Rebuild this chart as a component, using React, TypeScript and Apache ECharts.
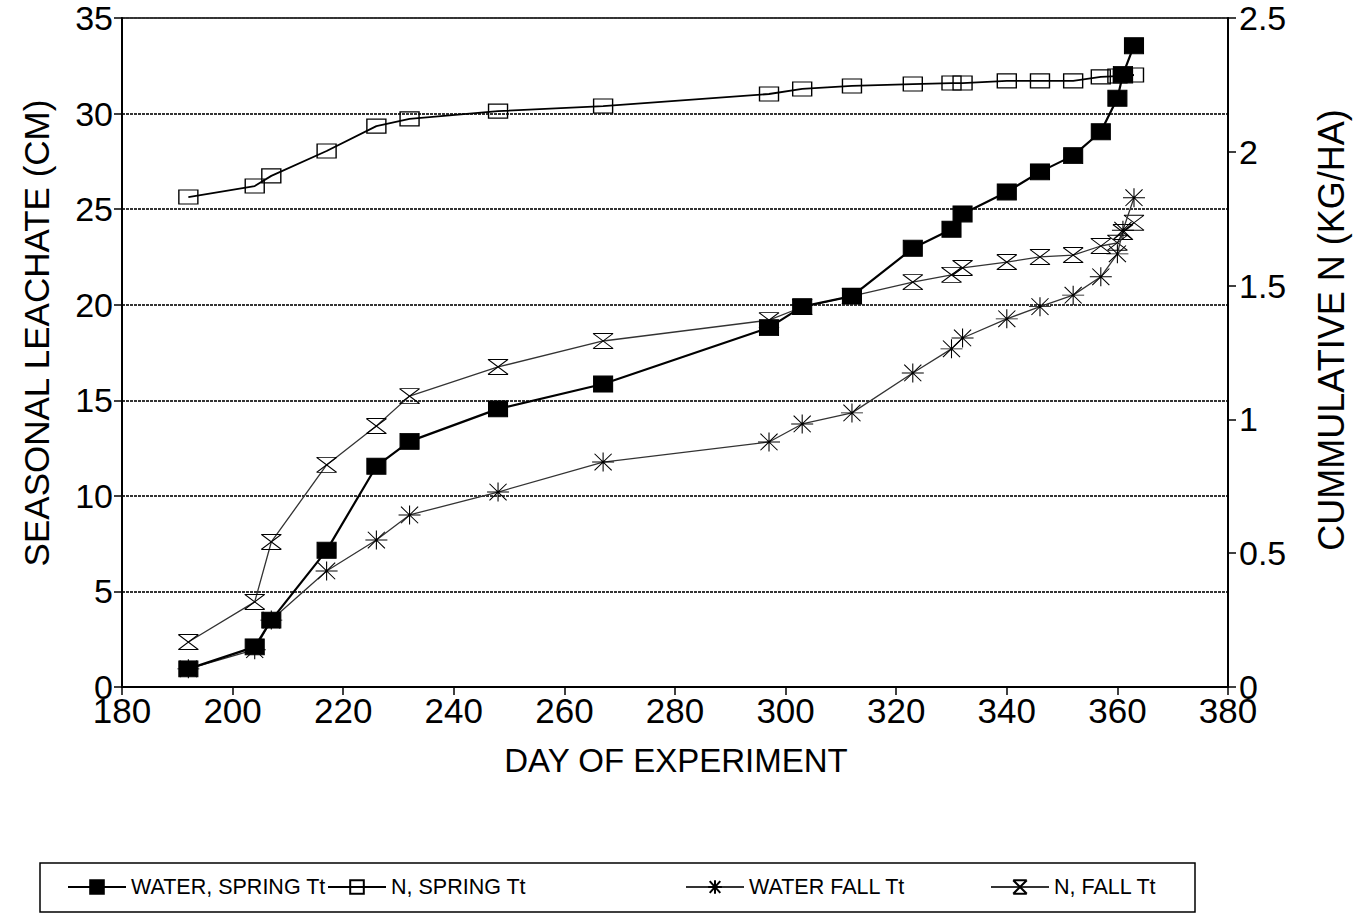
import React, { useEffect, useRef } from "react";
import * as echarts from "echarts";

const days = [192, 204, 207, 217, 226, 232, 248, 267, 297, 303, 312, 323, 330, 332, 340, 346, 352, 357, 360, 361, 363];
const waterSpring = [0.95, 2.1, 3.5, 7.15, 11.55, 12.85, 14.55, 15.85, 18.8, 19.9, 20.45, 22.95, 23.95, 24.75, 25.9, 26.95, 27.8, 29.05, 30.8, 32.05, 33.55];
const nSpring = [1.831, 1.872, 1.91, 2.003, 2.096, 2.123, 2.152, 2.171, 2.216, 2.235, 2.246, 2.253, 2.257, 2.257, 2.265, 2.265, 2.265, 2.28, 2.283, 2.283, 2.287];
const waterFall = [0.95, 1.95, 3.5, 6.07, 7.69, 9.0, 10.2, 11.77, 12.82, 13.76, 14.34, 16.43, 17.69, 18.26, 19.26, 19.9, 20.5, 21.46, 22.66, 23.9, 25.6];
const nFall = [0.168, 0.318, 0.542, 0.83, 0.975, 1.087, 1.196, 1.293, 1.371, 1.42, 1.461, 1.513, 1.54, 1.566, 1.588, 1.607, 1.614, 1.648, 1.66, 1.7, 1.735];

const seriesNames = ["WATER, SPRING Tt", "N, SPRING Tt", "WATER FALL Tt", "N, FALL Tt"];
const xTitle = "DAY OF EXPERIMENT";
const yLeftTitle = "SEASONAL LEACHATE (CM)";
const yRightTitle = "CUMMULATIVE N (KG/HA)";

const FONT = "'Liberation Sans', Arial, Helvetica, sans-serif";
const ASTERISK = "path://M0 8 L18 8 M9 0 L9 16 M2 1 L16 15 M16 1 L2 15";
const HOURGLASS = "path://M0 0 L18 0 M0 14 L18 14 M0 0 L18 14 M18 0 L0 14";

const pairs = (vals: number[]) => days.map((d, i) => [d, vals[i]]);

export default function App() {
  const ref = useRef<HTMLDivElement>(null);
  useEffect(() => {
    if (!ref.current) return;
    const chart = echarts.init(ref.current, undefined, { renderer: "svg" });
    const legendCommon = {
      top: 871,
      itemWidth: 58,
      itemHeight: 17,
      textStyle: { fontFamily: FONT, fontSize: 21.5, color: "#000" },
      selectedMode: false,
    };
    chart.setOption({
      animation: false,
      backgroundColor: "#fff",
      grid: {
        left: 122,
        right: 140,
        top: 18,
        bottom: 228,
        show: true,
        borderColor: "#000",
        borderWidth: 1.5,
        backgroundColor: "transparent",
      },
      legend: [
        { ...legendCommon, left: 62, data: [seriesNames[0]] },
        { ...legendCommon, left: 322, data: [seriesNames[1]] },
        { ...legendCommon, left: 680, data: [seriesNames[2]] },
        { ...legendCommon, left: 985, data: [seriesNames[3]] },
      ],
      xAxis: {
        type: "value",
        min: 180,
        max: 380,
        interval: 20,
        axisLine: { lineStyle: { color: "#000", width: 2 } },
        axisTick: { show: true, length: 8, lineStyle: { color: "#000", width: 1.5 } },
        axisLabel: { fontFamily: FONT, fontSize: 35, color: "#000", margin: 6 },
        splitLine: { show: false },
      },
      yAxis: [
        {
          type: "value",
          min: 0,
          max: 35,
          interval: 5,
          axisLine: { show: true, lineStyle: { color: "#000", width: 2 } },
          axisTick: { show: true, length: 8, lineStyle: { color: "#000", width: 1.5 } },
          axisLabel: { fontFamily: FONT, fontSize: 34, color: "#000", margin: 9 },
          splitLine: { show: true, lineStyle: { color: "#333", width: 2, type: [3, 1] } },
        },
        {
          type: "value",
          min: 0,
          max: 2.5,
          interval: 0.5,
          position: "right",
          axisLine: { show: true, lineStyle: { color: "#000", width: 2 } },
          axisTick: { show: true, length: 8, lineStyle: { color: "#000", width: 1.5 } },
          axisLabel: { fontFamily: FONT, fontSize: 34, color: "#000", margin: 11 },
          splitLine: { show: false },
        },
      ],
      graphic: [
        {
          type: "text",
          x: 676,
          y: 760,
          style: { text: xTitle, font: `33px ${FONT}`, fill: "#000", align: "center", verticalAlign: "middle" },
        },
        {
          type: "text",
          x: 36,
          y: 333,
          rotation: Math.PI / 2,
          style: { text: yLeftTitle, font: `35px ${FONT}`, fill: "#000", align: "center", verticalAlign: "middle" },
        },
        {
          type: "text",
          x: 1331,
          y: 330,
          rotation: Math.PI / 2,
          style: { text: yRightTitle, font: `36px ${FONT}`, fill: "#000", align: "center", verticalAlign: "middle" },
        },
        {
          type: "rect",
          shape: { x: 40, y: 863, width: 1155, height: 49 },
          style: { fill: "none", stroke: "#000", lineWidth: 1.5 },
        },
      ],
      series: [
        {
          name: seriesNames[3],
          type: "line",
          yAxisIndex: 1,
          data: pairs(nFall),
          symbol: HOURGLASS,
          symbolSize: [20, 15],
          lineStyle: { color: "#333", width: 1.3 },
          itemStyle: { color: "transparent", borderColor: "#000", borderWidth: 1.1 },
          z: 2,
        },
        {
          name: seriesNames[2],
          type: "line",
          yAxisIndex: 0,
          data: pairs(waterFall),
          symbol: ASTERISK,
          symbolSize: [22, 19],
          lineStyle: { color: "#333", width: 1.3 },
          itemStyle: { color: "transparent", borderColor: "#000", borderWidth: 1 },
          z: 3,
        },
        {
          name: seriesNames[1],
          type: "line",
          yAxisIndex: 1,
          data: pairs(nSpring),
          symbol: "rect",
          symbolSize: [19, 14],
          lineStyle: { color: "#000", width: 1.8 },
          itemStyle: { color: "transparent", borderColor: "#000", borderWidth: 1.2 },
          z: 4,
        },
        {
          name: seriesNames[0],
          type: "line",
          yAxisIndex: 0,
          data: pairs(waterSpring),
          symbol: "rect",
          symbolSize: [19, 16],
          lineStyle: { color: "#000", width: 2.2 },
          itemStyle: { color: "#000", borderColor: "#000", borderWidth: 1 },
          z: 5,
        },
      ],
    });
    return () => chart.dispose();
  }, []);
  return <div ref={ref} style={{ width: 1368, height: 915, position: "absolute", left: 0, top: 0 }} />;
}
